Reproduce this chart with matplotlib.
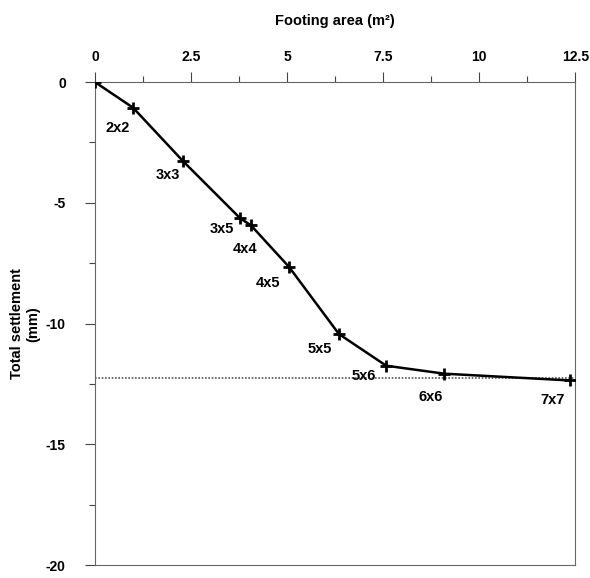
import numpy as np
import matplotlib
matplotlib.use("Agg")
import matplotlib.pyplot as plt
from matplotlib.ticker import MultipleLocator

plt.rcParams['font.family'] = ['Liberation Sans', 'DejaVu Sans']
plt.rcParams['axes.unicode_minus'] = False

# footing area vs total settlement
area = [0, 0.99, 2.29, 3.78, 4.06, 5.05, 6.35, 7.58, 9.09, 12.37]
settlement = [0, -1.06, -3.27, -5.64, -5.93, -7.65, -10.43, -11.74, -12.07, -12.35]
sizes = ["", "2x2", "3x3", "3x5", "4x4", "4x5", "5x5", "5x6", "6x6", "7x7"]
# label anchor (data coords)
label_x = [0, 0.6, 1.9, 3.3, 3.9, 4.5, 5.85, 7.0, 8.75, 11.9]
label_y = [0, -1.9, -3.85, -6.1, -6.9, -8.3, -11.05, -12.15, -13.05, -13.15]
limit_line = -12.25

fig = plt.figure(figsize=(5.9, 5.78), dpi=100)
ax = fig.add_axes([0.161, 0.022, 0.814, 0.836])

ax.plot(area, settlement, color='black', linewidth=1.8, marker='+',
        markersize=8, markeredgewidth=2, zorder=3)
ax.axhline(limit_line, color='#555555', linewidth=1.2, linestyle=(0, (1, 1)))

for lx, ly, s in zip(label_x, label_y, sizes):
    if s:
        ax.text(lx, ly, s, fontsize=10.5, fontweight='bold', ha='center', va='center')

ax.set_xlim(0, 12.5)
ax.set_ylim(-20, 0)
ax.xaxis.tick_top()
ax.xaxis.set_label_position('top')
ax.xaxis.set_major_locator(MultipleLocator(2.5))
ax.xaxis.set_minor_locator(MultipleLocator(1.25))
ax.yaxis.set_major_locator(MultipleLocator(5))
ax.yaxis.set_minor_locator(MultipleLocator(2.5))
ax.set_xticks([0, 2.5, 5, 7.5, 10, 12.5])
ax.set_xticklabels(["0", "2.5", "5", "7.5", "10", "12.5"])
ax.tick_params(which='major', length=7, width=0.8, color='#444444', labelsize=10)
ax.tick_params(axis='x', which='major', pad=6)
ax.tick_params(axis='y', which='major', pad=14)
ax.tick_params(which='minor', length=4, width=0.8, color='#444444')
for lbl in ax.get_xticklabels() + ax.get_yticklabels():
    lbl.set_fontweight('bold')

for sp in ax.spines.values():
    sp.set_color('#666666')
    sp.set_linewidth(0.8)

ax.set_xlabel("Footing area (m²)", fontsize=10.5, fontweight='bold', labelpad=18)
ax.set_ylabel("Total settlement\n(mm)", fontsize=10.5, fontweight='bold', labelpad=4)

fig.savefig("out.png", dpi=100)
